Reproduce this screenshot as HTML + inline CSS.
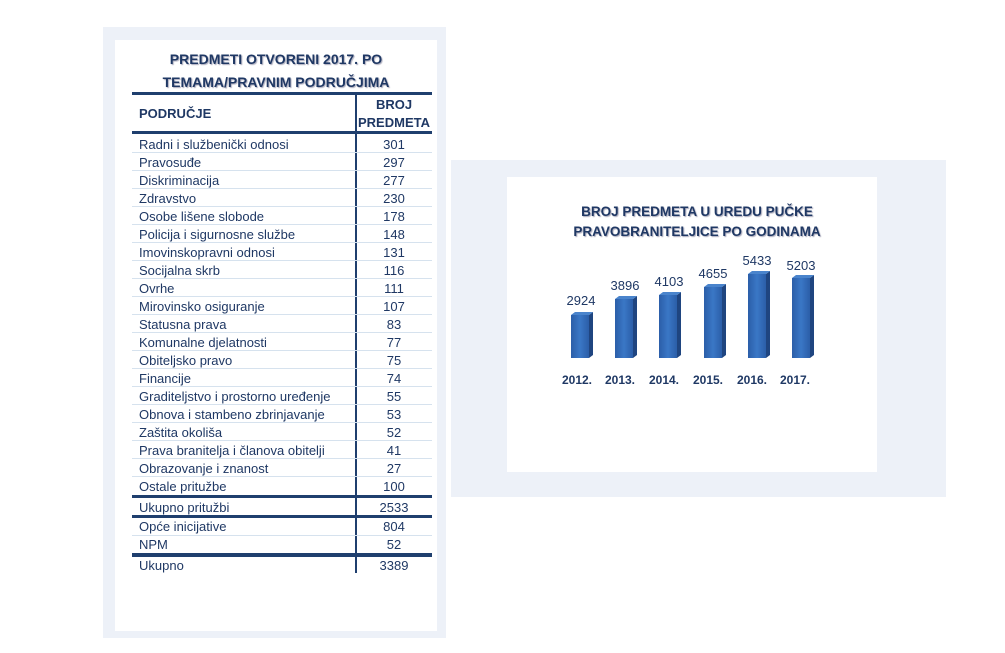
<!DOCTYPE html>
<html><head><meta charset="utf-8"><style>
body{margin:0;width:1005px;height:653px;background:#fff;position:relative;font-family:"Liberation Sans",sans-serif;color:#1f3864;overflow:hidden}
.a{position:absolute}
.r{position:absolute;left:132px;width:300px;height:18px;font-size:13px;line-height:20px}
.r .t{position:absolute;left:7px;white-space:nowrap}
.r .v{position:absolute;left:224px;width:76px;text-align:center}
.sep{position:absolute;left:132px;width:300px;height:1px;background:#d6e2ee}
.thk{position:absolute;left:132px;width:300px;height:3px;background:#1f3f6e}
</style></head><body>
<div class="a" style="left:103px;top:27px;width:343px;height:611px;background:#edf1f8"></div>
<div class="a" style="left:115px;top:40px;width:322px;height:591px;background:#fff"></div>
<div class="a" style="left:115px;top:48px;width:322px;text-align:center;font-weight:bold;font-size:14px;line-height:23px;color:#1f3864;text-shadow:1px 1px 1px #aab">PREDMETI OTVORENI 2017. PO<br>TEMAMA/PRAVNIM PODRUČJIMA</div>
<div class="thk" style="top:92px"></div>
<div class="a" style="left:139px;top:106px;font-size:13px;font-weight:bold">PODRUČJE</div>
<div class="a" style="left:356px;top:96px;width:76px;text-align:center;font-size:13px;font-weight:bold;line-height:18px">BROJ<br>PREDMETA</div>
<div class="thk" style="top:131px"></div>
<div class="a" style="left:355px;top:93px;width:1.5px;height:480px;background:#1f3f6e"></div>
<div class="r" style="top:135px"><span class="t">Radni i službenički odnosi</span><span class="v">301</span></div>
<div class="r" style="top:153px"><span class="t">Pravosuđe</span><span class="v">297</span></div>
<div class="r" style="top:171px"><span class="t">Diskriminacija</span><span class="v">277</span></div>
<div class="r" style="top:189px"><span class="t">Zdravstvo</span><span class="v">230</span></div>
<div class="r" style="top:207px"><span class="t">Osobe lišene slobode</span><span class="v">178</span></div>
<div class="r" style="top:225px"><span class="t">Policija i sigurnosne službe</span><span class="v">148</span></div>
<div class="r" style="top:243px"><span class="t">Imovinskopravni odnosi</span><span class="v">131</span></div>
<div class="r" style="top:261px"><span class="t">Socijalna skrb</span><span class="v">116</span></div>
<div class="r" style="top:279px"><span class="t">Ovrhe</span><span class="v">111</span></div>
<div class="r" style="top:297px"><span class="t">Mirovinsko osiguranje</span><span class="v">107</span></div>
<div class="r" style="top:315px"><span class="t">Statusna prava</span><span class="v">83</span></div>
<div class="r" style="top:333px"><span class="t">Komunalne djelatnosti</span><span class="v">77</span></div>
<div class="r" style="top:351px"><span class="t">Obiteljsko pravo</span><span class="v">75</span></div>
<div class="r" style="top:369px"><span class="t">Financije</span><span class="v">74</span></div>
<div class="r" style="top:387px"><span class="t">Graditeljstvo i prostorno uređenje</span><span class="v">55</span></div>
<div class="r" style="top:405px"><span class="t">Obnova i stambeno zbrinjavanje</span><span class="v">53</span></div>
<div class="r" style="top:423px"><span class="t">Zaštita okoliša</span><span class="v">52</span></div>
<div class="r" style="top:441px"><span class="t">Prava branitelja i članova obitelji</span><span class="v">41</span></div>
<div class="r" style="top:459px"><span class="t">Obrazovanje i znanost</span><span class="v">27</span></div>
<div class="r" style="top:477px"><span class="t">Ostale pritužbe</span><span class="v">100</span></div>
<div class="sep" style="top:152px"></div><div class="sep" style="top:170px"></div><div class="sep" style="top:188px"></div><div class="sep" style="top:206px"></div><div class="sep" style="top:224px"></div><div class="sep" style="top:242px"></div><div class="sep" style="top:260px"></div><div class="sep" style="top:278px"></div><div class="sep" style="top:296px"></div><div class="sep" style="top:314px"></div><div class="sep" style="top:332px"></div><div class="sep" style="top:350px"></div><div class="sep" style="top:368px"></div><div class="sep" style="top:386px"></div><div class="sep" style="top:404px"></div><div class="sep" style="top:422px"></div><div class="sep" style="top:440px"></div><div class="sep" style="top:458px"></div><div class="sep" style="top:476px"></div>
<div class="thk" style="top:495px"></div>
<div class="r" style="top:498px"><span class="t">Ukupno pritužbi</span><span class="v">2533</span></div>
<div class="thk" style="top:515px"></div>
<div class="r" style="top:517px"><span class="t">Opće inicijative</span><span class="v">804</span></div>
<div class="sep" style="top:535px"></div>
<div class="r" style="top:535px"><span class="t">NPM</span><span class="v">52</span></div>
<div class="thk" style="top:553px;height:4px"></div>
<div class="r" style="top:556px"><span class="t">Ukupno</span><span class="v">3389</span></div>

<div class="a" style="left:451px;top:160px;width:495px;height:337px;background:#edf1f8"></div>
<div class="a" style="left:507px;top:177px;width:370px;height:295px;background:#fff"></div>
<div class="a" style="left:507px;top:202px;width:380px;text-align:center;font-weight:bold;font-size:13.5px;line-height:20px;color:#1f3864;text-shadow:1px 1px 1px #aab">BROJ PREDMETA U UREDU PUČKE<br>PRAVOBRANITELJICE PO GODINAMA</div>
<svg class="a" style="left:0;top:0" width="1005" height="653">
<defs><linearGradient id="g" x1="0" x2="1"><stop offset="0" stop-color="#2b5ea8"/><stop offset=".5" stop-color="#3a77c6"/><stop offset="1" stop-color="#2b5ea8"/></linearGradient></defs>
<g>
<path d="M571 315 l18 0 l0 43 l-18 0z" fill="url(#g)"/><path d="M589 315 l4 -3 l0 43 l-4 3z" fill="#1f4580"/><path d="M571 315 l4 -3 l18 0 l-4 3z" fill="#4a84cc"/>
<path d="M615 299 l18 0 l0 59 l-18 0z" fill="url(#g)"/><path d="M633 299 l4 -3 l0 59 l-4 3z" fill="#1f4580"/><path d="M615 299 l4 -3 l18 0 l-4 3z" fill="#4a84cc"/>
<path d="M659 295 l18 0 l0 63 l-18 0z" fill="url(#g)"/><path d="M677 295 l4 -3 l0 63 l-4 3z" fill="#1f4580"/><path d="M659 295 l4 -3 l18 0 l-4 3z" fill="#4a84cc"/>
<path d="M704 287 l18 0 l0 71 l-18 0z" fill="url(#g)"/><path d="M722 287 l4 -3 l0 71 l-4 3z" fill="#1f4580"/><path d="M704 287 l4 -3 l18 0 l-4 3z" fill="#4a84cc"/>
<path d="M748 274 l18 0 l0 84 l-18 0z" fill="url(#g)"/><path d="M766 274 l4 -3 l0 84 l-4 3z" fill="#1f4580"/><path d="M748 274 l4 -3 l18 0 l-4 3z" fill="#4a84cc"/>
<path d="M792 278 l18 0 l0 80 l-18 0z" fill="url(#g)"/><path d="M810 278 l4 -3 l0 80 l-4 3z" fill="#1f4580"/><path d="M792 278 l4 -3 l18 0 l-4 3z" fill="#4a84cc"/>
</g>
<g font-family="Liberation Sans" font-size="13" fill="#1f3864" text-anchor="middle">
<text x="581" y="305">2924</text><text x="625" y="290">3896</text><text x="669" y="286">4103</text><text x="713" y="278">4655</text><text x="757" y="265">5433</text><text x="801" y="270">5203</text>
<g font-weight="bold" font-size="12"><text x="577" y="384">2012.</text><text x="620" y="384">2013.</text><text x="664" y="384">2014.</text><text x="708" y="384">2015.</text><text x="752" y="384">2016.</text><text x="795" y="384">2017.</text></g>
</g>
</svg>
</body></html>
